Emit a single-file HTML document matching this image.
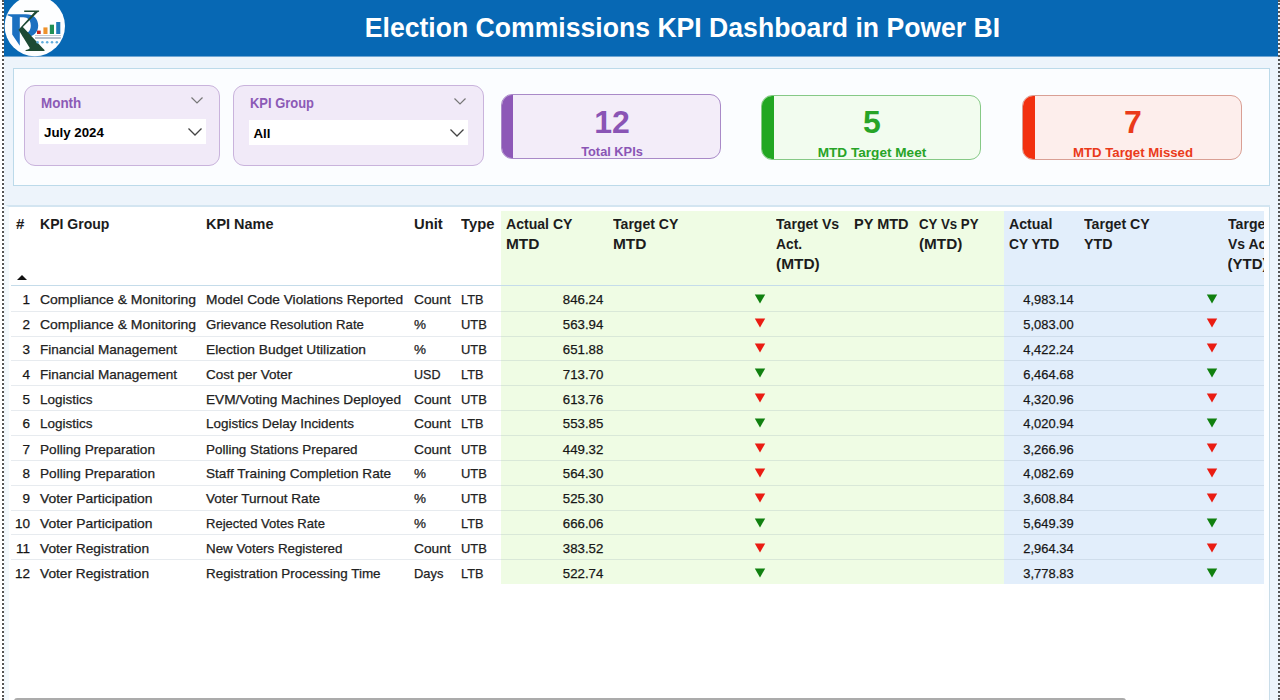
<!DOCTYPE html>
<html>
<head>
<meta charset="utf-8">
<title>Election Commissions KPI Dashboard in Power BI</title>
<style>
*{box-sizing:border-box;margin:0;padding:0}
html,body{width:1280px;height:700px;overflow:hidden}
body{background:#edf4fb;font-family:"Liberation Sans",sans-serif;position:relative;color:#222}
.abs{position:absolute}
#hdr{left:4px;top:0;width:1274px;height:57px;background:#0768b4;border-bottom:1px solid #6fa6d3}
#title{left:0;top:0.4px;width:1280px;height:56px;line-height:56px;text-align:center;color:#fff;font-weight:bold;font-size:26.6px;padding-left:85px;white-space:nowrap;transform:scaleY(1.04);transform-origin:50% 50%}
#dotL{left:0;top:0;width:4px;height:700px;background:#fff;border-right:2px dotted #555}
#dotR{left:1278px;top:0;width:2px;height:700px;border-left:2px dotted #555}
#panel{left:13px;top:68px;width:1257px;height:118px;background:#fbfdff;border:1px solid #bcdaea}
.slicer{background:#f1eaf8;border:1px solid #c9b3dc;border-radius:11px}
.slbl{color:#8c5ab6;font-weight:bold;font-size:14.6px;white-space:nowrap;transform:scaleX(0.92);transform-origin:0 50%}
.sbox{background:#fff}
.sval{color:#000;font-weight:bold;font-size:13.3px;white-space:nowrap}
.card{border-radius:11px;overflow:hidden}
.cnum{font-weight:bold;line-height:37px;text-align:center;white-space:nowrap}
.clab{font-weight:bold;line-height:15px;text-align:center;white-space:nowrap}
#tbl{left:5px;top:205px;width:1265px;height:495px;background:#fff;border-top:2px solid #d3e5f1;border-left:4px solid #f3f9fd}
.th{font-weight:bold;font-size:15px;line-height:20px;color:#1c1c1c;white-space:nowrap}
.td{font-size:13.5px;line-height:25px;height:25px;color:#222;white-space:nowrap;-webkit-text-stroke:0.25px #222}
.num{text-align:right;color:#111}
.rl{left:11px;width:1253px;height:1px;background:rgba(110,135,160,0.17)}
.hl{display:block;transform-origin:0 50%;white-space:nowrap}
.sx{display:inline-block;white-space:nowrap}
</style>
</head>
<body>
<div class="abs" id="hdr"></div>
<div class="abs" id="title">Election Commissions KPI Dashboard in Power BI</div>
<svg class="abs" id="logo" style="left:0px;top:0px" width="80" height="60" viewBox="0 0 80 60">
<circle cx="34.8" cy="26" r="30.2" fill="#fdfeff"/>
<g fill="#1b70c0">
<path d="M7.6 14.2 L26 14.2 C33.5 14.2 38.2 18.6 38.2 25.6 C38.2 32.6 33.4 36.8 27 36.8 L22.5 36.2 L22.5 33.6 C27.6 34.2 30.8 31 30.8 25.6 C30.8 20.2 27.8 17.2 23.4 17.2 L19.8 17.2 L19.8 45.8 L12.2 34.5 L12.2 17 C11 16.4 9.2 15.8 7.6 15.4 Z"/>
</g>
<g fill="#1d4a34">
<path d="M24.2 10.5 H39.1 V11.8 L37.9 12.1 L22.9 26.9 L43 48.6 C43.6 49.2 44 49.6 44.5 49.9 V51 H25.6 V49.9 C27.6 49.8 29.6 49.2 29.8 48 L18.5 29.8 L34.5 12 H24.2 Z"/>
</g>
<rect x="37" y="30.6" width="3.7" height="3.4" fill="#c8281e"/>
<rect x="43.4" y="27.4" width="4.1" height="6.6" fill="#ee922c"/>
<rect x="49.8" y="24.7" width="4.2" height="9.3" fill="#1f8f55"/>
<rect x="56.2" y="22" width="4.1" height="12" fill="#1f7ab8"/>
<rect x="35" y="35" width="26" height="0.6" fill="#9aa7b5"/>
<rect x="35" y="37" width="25.8" height="2" fill="#6f7f98" opacity="0.5"/>
<g fill="#62aede">
<circle cx="37.6" cy="42.3" r="1.25"/><circle cx="42.4" cy="42.3" r="1.25"/><circle cx="47.2" cy="42.3" r="1.25"/><circle cx="52" cy="42.3" r="1.25"/><circle cx="56.8" cy="42.3" r="1.25"/>
</g>
</svg>

<div class="abs" id="panel"></div>
<div class="abs slicer" style="left:24px;top:85px;width:196px;height:81px"></div>
<div class="abs slbl" style="left:41px;top:94.6px">Month</div>
<svg class="abs" style="left:190px;top:96px" width="14" height="9" viewBox="0 0 14 9"><path d="M1.5 1.5 L7 7 L12.5 1.5" fill="none" stroke="#777" stroke-width="1.2"/></svg>
<div class="abs sbox" style="left:39px;top:119px;width:167px;height:25px"></div>
<div class="abs sval" style="left:44px;top:125px">July 2024</div>
<svg class="abs" style="left:187px;top:127px" width="16" height="10" viewBox="0 0 16 10"><path d="M1.5 1.5 L8 8 L14.5 1.5" fill="none" stroke="#444" stroke-width="1.3"/></svg>
<div class="abs slicer" style="left:233px;top:85px;width:251px;height:81px"></div>
<div class="abs slbl" style="left:250px;top:95px;transform:scaleX(0.887)">KPI Group</div>
<svg class="abs" style="left:453px;top:97px" width="14" height="9" viewBox="0 0 14 9"><path d="M1.5 1.5 L7 7 L12.5 1.5" fill="none" stroke="#777" stroke-width="1.2"/></svg>
<div class="abs sbox" style="left:249px;top:119.5px;width:219px;height:25px"></div>
<div class="abs sval" style="left:253.5px;top:126px">All</div>
<svg class="abs" style="left:449px;top:128px" width="16" height="10" viewBox="0 0 16 10"><path d="M1.5 1.5 L8 8 L14.5 1.5" fill="none" stroke="#444" stroke-width="1.3"/></svg>
<div class="abs card" style="left:501px;top:94px;width:220px;height:65px;background:#f3edf9;border:1px solid #a98ac8"><div class="abs" style="left:-1px;top:-1px;width:12px;height:65px;background:#8d58b7"></div></div>
<div class="abs cnum" style="left:501px;top:104px;width:222px;color:#8a55b5;font-size:32px">12</div>
<div class="abs clab" style="left:501px;top:144px;width:222px;color:#8a55b5;font-size:12.8px">Total KPIs</div>
<div class="abs card" style="left:761px;top:95px;width:220px;height:65px;background:#f2fcef;border:1px solid #86c986"><div class="abs" style="left:-1px;top:-1px;width:13px;height:65px;background:#22a722"></div></div>
<div class="abs cnum" style="left:761px;top:103.5px;width:222px;color:#27a427;font-size:32px">5</div>
<div class="abs clab" style="left:761px;top:145.4px;width:222px;color:#27a427;font-size:13.6px">MTD Target Meet</div>
<div class="abs card" style="left:1022px;top:95px;width:220px;height:65px;background:#fdeeec;border:1px solid #d99f94"><div class="abs" style="left:-1px;top:-1px;width:13px;height:65px;background:#f2300f"></div></div>
<div class="abs cnum" style="left:1022px;top:103.5px;width:222px;color:#ea3a1a;font-size:32px">7</div>
<div class="abs clab" style="left:1022px;top:145.4px;width:222px;color:#ea3a1a;font-size:13.2px">MTD Target Missed</div>
<div class="abs" id="tbl"></div>
<div class="abs" style="left:501px;top:211px;width:503px;height:373px;background:#effce4"></div>
<div class="abs" style="left:1004px;top:211px;width:260px;height:373px;background:#e2eefb"></div>
<div class="abs th" style="left:16px;top:214.3px;"><span class="hl" style="transform:scaleX(1)">#</span></div>
<div class="abs th" style="left:40px;top:214.3px;"><span class="hl" style="transform:scaleX(0.936)">KPI Group</span></div>
<div class="abs th" style="left:206px;top:214.3px;"><span class="hl" style="transform:scaleX(0.964)">KPI Name</span></div>
<div class="abs th" style="left:414px;top:214.3px;"><span class="hl" style="transform:scaleX(0.985)">Unit</span></div>
<div class="abs th" style="left:461px;top:214.3px;"><span class="hl" style="transform:scaleX(0.985)">Type</span></div>
<div class="abs th" style="left:505.5px;top:214.3px;"><span class="hl" style="transform:scaleX(0.938)">Actual CY</span><span class="hl" style="transform:scaleX(1.03)">MTD</span></div>
<div class="abs th" style="left:613px;top:214.3px;"><span class="hl" style="transform:scaleX(0.938)">Target CY</span><span class="hl" style="transform:scaleX(1.03)">MTD</span></div>
<div class="abs th" style="left:776px;top:214.3px;"><span class="hl" style="transform:scaleX(0.94)">Target Vs</span><span class="hl" style="transform:scaleX(0.92)">Act.</span><span class="hl" style="transform:scaleX(1.03)">(MTD)</span></div>
<div class="abs th" style="left:853.5px;top:214.3px;"><span class="hl" style="transform:scaleX(0.968)">PY MTD</span></div>
<div class="abs th" style="left:919px;top:214.3px;"><span class="hl" style="transform:scaleX(0.885)">CY Vs PY</span><span class="hl" style="transform:scaleX(1.02)">(MTD)</span></div>
<div class="abs th" style="left:1008.5px;top:214.3px;"><span class="hl" style="transform:scaleX(0.945)">Actual</span><span class="hl" style="transform:scaleX(0.92)">CY YTD</span></div>
<div class="abs th" style="left:1084px;top:214.3px;"><span class="hl" style="transform:scaleX(0.943)">Target CY</span><span class="hl" style="transform:scaleX(0.948)">YTD</span></div>
<div class="abs th" style="left:1227.5px;top:214.3px;width:36.5px;overflow:hidden"><span class="hl" style="transform:scaleX(0.94)">Target</span><span class="hl" style="transform:scaleX(0.93)">Vs Act.</span><span class="hl" style="transform:scaleX(1.0)">(YTD)</span></div>
<svg class="abs" style="left:16.5px;top:274.5px" width="10" height="5" viewBox="0 0 10 5"><path d="M0 5 L5 0 L10 5Z" fill="#111"/></svg>
<div class="abs rl" style="top:285px;background:#c5dcea"></div>
<div class="abs td num" style="left:8px;top:287px;width:22px">1</div>
<div class="abs td" style="left:40px;top:287px"><span class="sx" style="transform:scaleX(1.035);transform-origin:0 50%">Compliance &amp; Monitoring</span></div>
<div class="abs td" style="left:206px;top:287px"><span class="sx" style="transform:scaleX(1.015);transform-origin:0 50%">Model Code Violations Reported</span></div>
<div class="abs td" style="left:414px;top:287px"><span class="sx" style="transform:scaleX(1.02);transform-origin:0 50%">Count</span></div>
<div class="abs td" style="left:461px;top:287px"><span class="sx" style="transform:scaleX(0.943);transform-origin:0 50%">LTB</span></div>
<div class="abs td num" style="left:520px;top:287px;width:83px"><span class="sx" style="transform:scaleX(0.98);transform-origin:100% 50%">846.24</span></div>
<div class="abs td num" style="left:1004px;top:287px;width:70px"><span class="sx" style="transform:scaleX(0.955);transform-origin:100% 50%">4,983.14</span></div>
<svg class="abs" style="left:754px;top:293.5px" width="12" height="10" viewBox="0 0 12 10"><path d="M0.8 0.5 L11.2 0.5 L6 9.6Z" fill="#10800f"/></svg>
<svg class="abs" style="left:1206px;top:293.5px" width="12" height="10" viewBox="0 0 12 10"><path d="M0.8 0.5 L11.2 0.5 L6 9.6Z" fill="#10800f"/></svg>
<div class="abs rl" style="top:311px"></div>
<div class="abs td num" style="left:8px;top:312px;width:22px">2</div>
<div class="abs td" style="left:40px;top:312px"><span class="sx" style="transform:scaleX(1.035);transform-origin:0 50%">Compliance &amp; Monitoring</span></div>
<div class="abs td" style="left:206px;top:312px"><span class="sx" style="transform:scaleX(0.979);transform-origin:0 50%">Grievance Resolution Rate</span></div>
<div class="abs td" style="left:414px;top:312px">%</div>
<div class="abs td" style="left:461px;top:312px"><span class="sx" style="transform:scaleX(0.96);transform-origin:0 50%">UTB</span></div>
<div class="abs td num" style="left:520px;top:312px;width:83px"><span class="sx" style="transform:scaleX(0.98);transform-origin:100% 50%">563.94</span></div>
<div class="abs td num" style="left:1004px;top:312px;width:70px"><span class="sx" style="transform:scaleX(0.955);transform-origin:100% 50%">5,083.00</span></div>
<svg class="abs" style="left:754px;top:318.44px" width="12" height="10" viewBox="0 0 12 10"><path d="M0.8 0.5 L11.2 0.5 L6 9.6Z" fill="#ea1c12"/></svg>
<svg class="abs" style="left:1206px;top:318.44px" width="12" height="10" viewBox="0 0 12 10"><path d="M0.8 0.5 L11.2 0.5 L6 9.6Z" fill="#ea1c12"/></svg>
<div class="abs rl" style="top:336px"></div>
<div class="abs td num" style="left:8px;top:337px;width:22px">3</div>
<div class="abs td" style="left:40px;top:337px"><span class="sx" style="transform:scaleX(1.003);transform-origin:0 50%">Financial Management</span></div>
<div class="abs td" style="left:206px;top:337px"><span class="sx" style="transform:scaleX(1.02);transform-origin:0 50%">Election Budget Utilization</span></div>
<div class="abs td" style="left:414px;top:337px">%</div>
<div class="abs td" style="left:461px;top:337px"><span class="sx" style="transform:scaleX(0.96);transform-origin:0 50%">UTB</span></div>
<div class="abs td num" style="left:520px;top:337px;width:83px"><span class="sx" style="transform:scaleX(0.98);transform-origin:100% 50%">651.88</span></div>
<div class="abs td num" style="left:1004px;top:337px;width:70px"><span class="sx" style="transform:scaleX(0.955);transform-origin:100% 50%">4,422.24</span></div>
<svg class="abs" style="left:754px;top:343.38px" width="12" height="10" viewBox="0 0 12 10"><path d="M0.8 0.5 L11.2 0.5 L6 9.6Z" fill="#ea1c12"/></svg>
<svg class="abs" style="left:1206px;top:343.38px" width="12" height="10" viewBox="0 0 12 10"><path d="M0.8 0.5 L11.2 0.5 L6 9.6Z" fill="#ea1c12"/></svg>
<div class="abs rl" style="top:360px"></div>
<div class="abs td num" style="left:8px;top:362px;width:22px">4</div>
<div class="abs td" style="left:40px;top:362px"><span class="sx" style="transform:scaleX(1.003);transform-origin:0 50%">Financial Management</span></div>
<div class="abs td" style="left:206px;top:362px">Cost per Voter</div>
<div class="abs td" style="left:414px;top:362px"><span class="sx" style="transform:scaleX(0.93);transform-origin:0 50%">USD</span></div>
<div class="abs td" style="left:461px;top:362px"><span class="sx" style="transform:scaleX(0.943);transform-origin:0 50%">LTB</span></div>
<div class="abs td num" style="left:520px;top:362px;width:83px"><span class="sx" style="transform:scaleX(0.98);transform-origin:100% 50%">713.70</span></div>
<div class="abs td num" style="left:1004px;top:362px;width:70px"><span class="sx" style="transform:scaleX(0.955);transform-origin:100% 50%">6,464.68</span></div>
<svg class="abs" style="left:754px;top:368.32px" width="12" height="10" viewBox="0 0 12 10"><path d="M0.8 0.5 L11.2 0.5 L6 9.6Z" fill="#10800f"/></svg>
<svg class="abs" style="left:1206px;top:368.32px" width="12" height="10" viewBox="0 0 12 10"><path d="M0.8 0.5 L11.2 0.5 L6 9.6Z" fill="#10800f"/></svg>
<div class="abs rl" style="top:385px"></div>
<div class="abs td num" style="left:8px;top:387px;width:22px">5</div>
<div class="abs td" style="left:40px;top:387px">Logistics</div>
<div class="abs td" style="left:206px;top:387px"><span class="sx" style="transform:scaleX(1.011);transform-origin:0 50%">EVM/Voting Machines Deployed</span></div>
<div class="abs td" style="left:414px;top:387px"><span class="sx" style="transform:scaleX(1.02);transform-origin:0 50%">Count</span></div>
<div class="abs td" style="left:461px;top:387px"><span class="sx" style="transform:scaleX(0.96);transform-origin:0 50%">UTB</span></div>
<div class="abs td num" style="left:520px;top:387px;width:83px"><span class="sx" style="transform:scaleX(0.98);transform-origin:100% 50%">613.76</span></div>
<div class="abs td num" style="left:1004px;top:387px;width:70px"><span class="sx" style="transform:scaleX(0.955);transform-origin:100% 50%">4,320.96</span></div>
<svg class="abs" style="left:754px;top:393.26px" width="12" height="10" viewBox="0 0 12 10"><path d="M0.8 0.5 L11.2 0.5 L6 9.6Z" fill="#ea1c12"/></svg>
<svg class="abs" style="left:1206px;top:393.26px" width="12" height="10" viewBox="0 0 12 10"><path d="M0.8 0.5 L11.2 0.5 L6 9.6Z" fill="#ea1c12"/></svg>
<div class="abs rl" style="top:410px"></div>
<div class="abs td num" style="left:8px;top:411px;width:22px">6</div>
<div class="abs td" style="left:40px;top:411px">Logistics</div>
<div class="abs td" style="left:206px;top:411px"><span class="sx" style="transform:scaleX(0.996);transform-origin:0 50%">Logistics Delay Incidents</span></div>
<div class="abs td" style="left:414px;top:411px"><span class="sx" style="transform:scaleX(1.02);transform-origin:0 50%">Count</span></div>
<div class="abs td" style="left:461px;top:411px"><span class="sx" style="transform:scaleX(0.943);transform-origin:0 50%">LTB</span></div>
<div class="abs td num" style="left:520px;top:411px;width:83px"><span class="sx" style="transform:scaleX(0.98);transform-origin:100% 50%">553.85</span></div>
<div class="abs td num" style="left:1004px;top:411px;width:70px"><span class="sx" style="transform:scaleX(0.955);transform-origin:100% 50%">4,020.94</span></div>
<svg class="abs" style="left:754px;top:418.2px" width="12" height="10" viewBox="0 0 12 10"><path d="M0.8 0.5 L11.2 0.5 L6 9.6Z" fill="#10800f"/></svg>
<svg class="abs" style="left:1206px;top:418.2px" width="12" height="10" viewBox="0 0 12 10"><path d="M0.8 0.5 L11.2 0.5 L6 9.6Z" fill="#10800f"/></svg>
<div class="abs rl" style="top:435px"></div>
<div class="abs td num" style="left:8px;top:437px;width:22px">7</div>
<div class="abs td" style="left:40px;top:437px"><span class="sx" style="transform:scaleX(1.008);transform-origin:0 50%">Polling Preparation</span></div>
<div class="abs td" style="left:206px;top:437px"><span class="sx" style="transform:scaleX(0.995);transform-origin:0 50%">Polling Stations Prepared</span></div>
<div class="abs td" style="left:414px;top:437px"><span class="sx" style="transform:scaleX(1.02);transform-origin:0 50%">Count</span></div>
<div class="abs td" style="left:461px;top:437px"><span class="sx" style="transform:scaleX(0.96);transform-origin:0 50%">UTB</span></div>
<div class="abs td num" style="left:520px;top:437px;width:83px"><span class="sx" style="transform:scaleX(0.98);transform-origin:100% 50%">449.32</span></div>
<div class="abs td num" style="left:1004px;top:437px;width:70px"><span class="sx" style="transform:scaleX(0.955);transform-origin:100% 50%">3,266.96</span></div>
<svg class="abs" style="left:754px;top:443.14px" width="12" height="10" viewBox="0 0 12 10"><path d="M0.8 0.5 L11.2 0.5 L6 9.6Z" fill="#ea1c12"/></svg>
<svg class="abs" style="left:1206px;top:443.14px" width="12" height="10" viewBox="0 0 12 10"><path d="M0.8 0.5 L11.2 0.5 L6 9.6Z" fill="#ea1c12"/></svg>
<div class="abs rl" style="top:460px"></div>
<div class="abs td num" style="left:8px;top:461px;width:22px">8</div>
<div class="abs td" style="left:40px;top:461px"><span class="sx" style="transform:scaleX(1.008);transform-origin:0 50%">Polling Preparation</span></div>
<div class="abs td" style="left:206px;top:461px"><span class="sx" style="transform:scaleX(1.008);transform-origin:0 50%">Staff Training Completion Rate</span></div>
<div class="abs td" style="left:414px;top:461px">%</div>
<div class="abs td" style="left:461px;top:461px"><span class="sx" style="transform:scaleX(0.96);transform-origin:0 50%">UTB</span></div>
<div class="abs td num" style="left:520px;top:461px;width:83px"><span class="sx" style="transform:scaleX(0.98);transform-origin:100% 50%">564.30</span></div>
<div class="abs td num" style="left:1004px;top:461px;width:70px"><span class="sx" style="transform:scaleX(0.955);transform-origin:100% 50%">4,082.69</span></div>
<svg class="abs" style="left:754px;top:468.08px" width="12" height="10" viewBox="0 0 12 10"><path d="M0.8 0.5 L11.2 0.5 L6 9.6Z" fill="#ea1c12"/></svg>
<svg class="abs" style="left:1206px;top:468.08px" width="12" height="10" viewBox="0 0 12 10"><path d="M0.8 0.5 L11.2 0.5 L6 9.6Z" fill="#ea1c12"/></svg>
<div class="abs rl" style="top:485px"></div>
<div class="abs td num" style="left:8px;top:486px;width:22px">9</div>
<div class="abs td" style="left:40px;top:486px"><span class="sx" style="transform:scaleX(1.027);transform-origin:0 50%">Voter Participation</span></div>
<div class="abs td" style="left:206px;top:486px"><span class="sx" style="transform:scaleX(1.006);transform-origin:0 50%">Voter Turnout Rate</span></div>
<div class="abs td" style="left:414px;top:486px">%</div>
<div class="abs td" style="left:461px;top:486px"><span class="sx" style="transform:scaleX(0.96);transform-origin:0 50%">UTB</span></div>
<div class="abs td num" style="left:520px;top:486px;width:83px"><span class="sx" style="transform:scaleX(0.98);transform-origin:100% 50%">525.30</span></div>
<div class="abs td num" style="left:1004px;top:486px;width:70px"><span class="sx" style="transform:scaleX(0.955);transform-origin:100% 50%">3,608.84</span></div>
<svg class="abs" style="left:754px;top:493.02px" width="12" height="10" viewBox="0 0 12 10"><path d="M0.8 0.5 L11.2 0.5 L6 9.6Z" fill="#ea1c12"/></svg>
<svg class="abs" style="left:1206px;top:493.02px" width="12" height="10" viewBox="0 0 12 10"><path d="M0.8 0.5 L11.2 0.5 L6 9.6Z" fill="#ea1c12"/></svg>
<div class="abs rl" style="top:510px"></div>
<div class="abs td num" style="left:8px;top:511px;width:22px">10</div>
<div class="abs td" style="left:40px;top:511px"><span class="sx" style="transform:scaleX(1.027);transform-origin:0 50%">Voter Participation</span></div>
<div class="abs td" style="left:206px;top:511px"><span class="sx" style="transform:scaleX(0.966);transform-origin:0 50%">Rejected Votes Rate</span></div>
<div class="abs td" style="left:414px;top:511px">%</div>
<div class="abs td" style="left:461px;top:511px"><span class="sx" style="transform:scaleX(0.943);transform-origin:0 50%">LTB</span></div>
<div class="abs td num" style="left:520px;top:511px;width:83px"><span class="sx" style="transform:scaleX(0.98);transform-origin:100% 50%">666.06</span></div>
<div class="abs td num" style="left:1004px;top:511px;width:70px"><span class="sx" style="transform:scaleX(0.955);transform-origin:100% 50%">5,649.39</span></div>
<svg class="abs" style="left:754px;top:517.96px" width="12" height="10" viewBox="0 0 12 10"><path d="M0.8 0.5 L11.2 0.5 L6 9.6Z" fill="#10800f"/></svg>
<svg class="abs" style="left:1206px;top:517.96px" width="12" height="10" viewBox="0 0 12 10"><path d="M0.8 0.5 L11.2 0.5 L6 9.6Z" fill="#10800f"/></svg>
<div class="abs rl" style="top:534px"></div>
<div class="abs td num" style="left:8px;top:536px;width:22px">11</div>
<div class="abs td" style="left:40px;top:536px"><span class="sx" style="transform:scaleX(1.016);transform-origin:0 50%">Voter Registration</span></div>
<div class="abs td" style="left:206px;top:536px"><span class="sx" style="transform:scaleX(0.988);transform-origin:0 50%">New Voters Registered</span></div>
<div class="abs td" style="left:414px;top:536px"><span class="sx" style="transform:scaleX(1.02);transform-origin:0 50%">Count</span></div>
<div class="abs td" style="left:461px;top:536px"><span class="sx" style="transform:scaleX(0.96);transform-origin:0 50%">UTB</span></div>
<div class="abs td num" style="left:520px;top:536px;width:83px"><span class="sx" style="transform:scaleX(0.98);transform-origin:100% 50%">383.52</span></div>
<div class="abs td num" style="left:1004px;top:536px;width:70px"><span class="sx" style="transform:scaleX(0.955);transform-origin:100% 50%">2,964.34</span></div>
<svg class="abs" style="left:754px;top:542.9px" width="12" height="10" viewBox="0 0 12 10"><path d="M0.8 0.5 L11.2 0.5 L6 9.6Z" fill="#ea1c12"/></svg>
<svg class="abs" style="left:1206px;top:542.9px" width="12" height="10" viewBox="0 0 12 10"><path d="M0.8 0.5 L11.2 0.5 L6 9.6Z" fill="#ea1c12"/></svg>
<div class="abs rl" style="top:559px"></div>
<div class="abs td num" style="left:8px;top:561px;width:22px">12</div>
<div class="abs td" style="left:40px;top:561px"><span class="sx" style="transform:scaleX(1.016);transform-origin:0 50%">Voter Registration</span></div>
<div class="abs td" style="left:206px;top:561px"><span class="sx" style="transform:scaleX(0.994);transform-origin:0 50%">Registration Processing Time</span></div>
<div class="abs td" style="left:414px;top:561px"><span class="sx" style="transform:scaleX(0.956);transform-origin:0 50%">Days</span></div>
<div class="abs td" style="left:461px;top:561px"><span class="sx" style="transform:scaleX(0.943);transform-origin:0 50%">LTB</span></div>
<div class="abs td num" style="left:520px;top:561px;width:83px"><span class="sx" style="transform:scaleX(0.98);transform-origin:100% 50%">522.74</span></div>
<div class="abs td num" style="left:1004px;top:561px;width:70px"><span class="sx" style="transform:scaleX(0.955);transform-origin:100% 50%">3,778.83</span></div>
<svg class="abs" style="left:754px;top:567.84px" width="12" height="10" viewBox="0 0 12 10"><path d="M0.8 0.5 L11.2 0.5 L6 9.6Z" fill="#10800f"/></svg>
<svg class="abs" style="left:1206px;top:567.84px" width="12" height="10" viewBox="0 0 12 10"><path d="M0.8 0.5 L11.2 0.5 L6 9.6Z" fill="#10800f"/></svg>
<div class="abs" style="left:14px;top:698px;width:1112px;height:6px;background:#ababab;border-radius:3px"></div>
<div class="abs" style="left:1264px;top:207px;width:6px;height:493px;background:#fdfeff;border-right:1px solid #c9dde9"></div>
<div class="abs" id="dotL"></div>
<div class="abs" id="dotR"></div>
</body>
</html>
